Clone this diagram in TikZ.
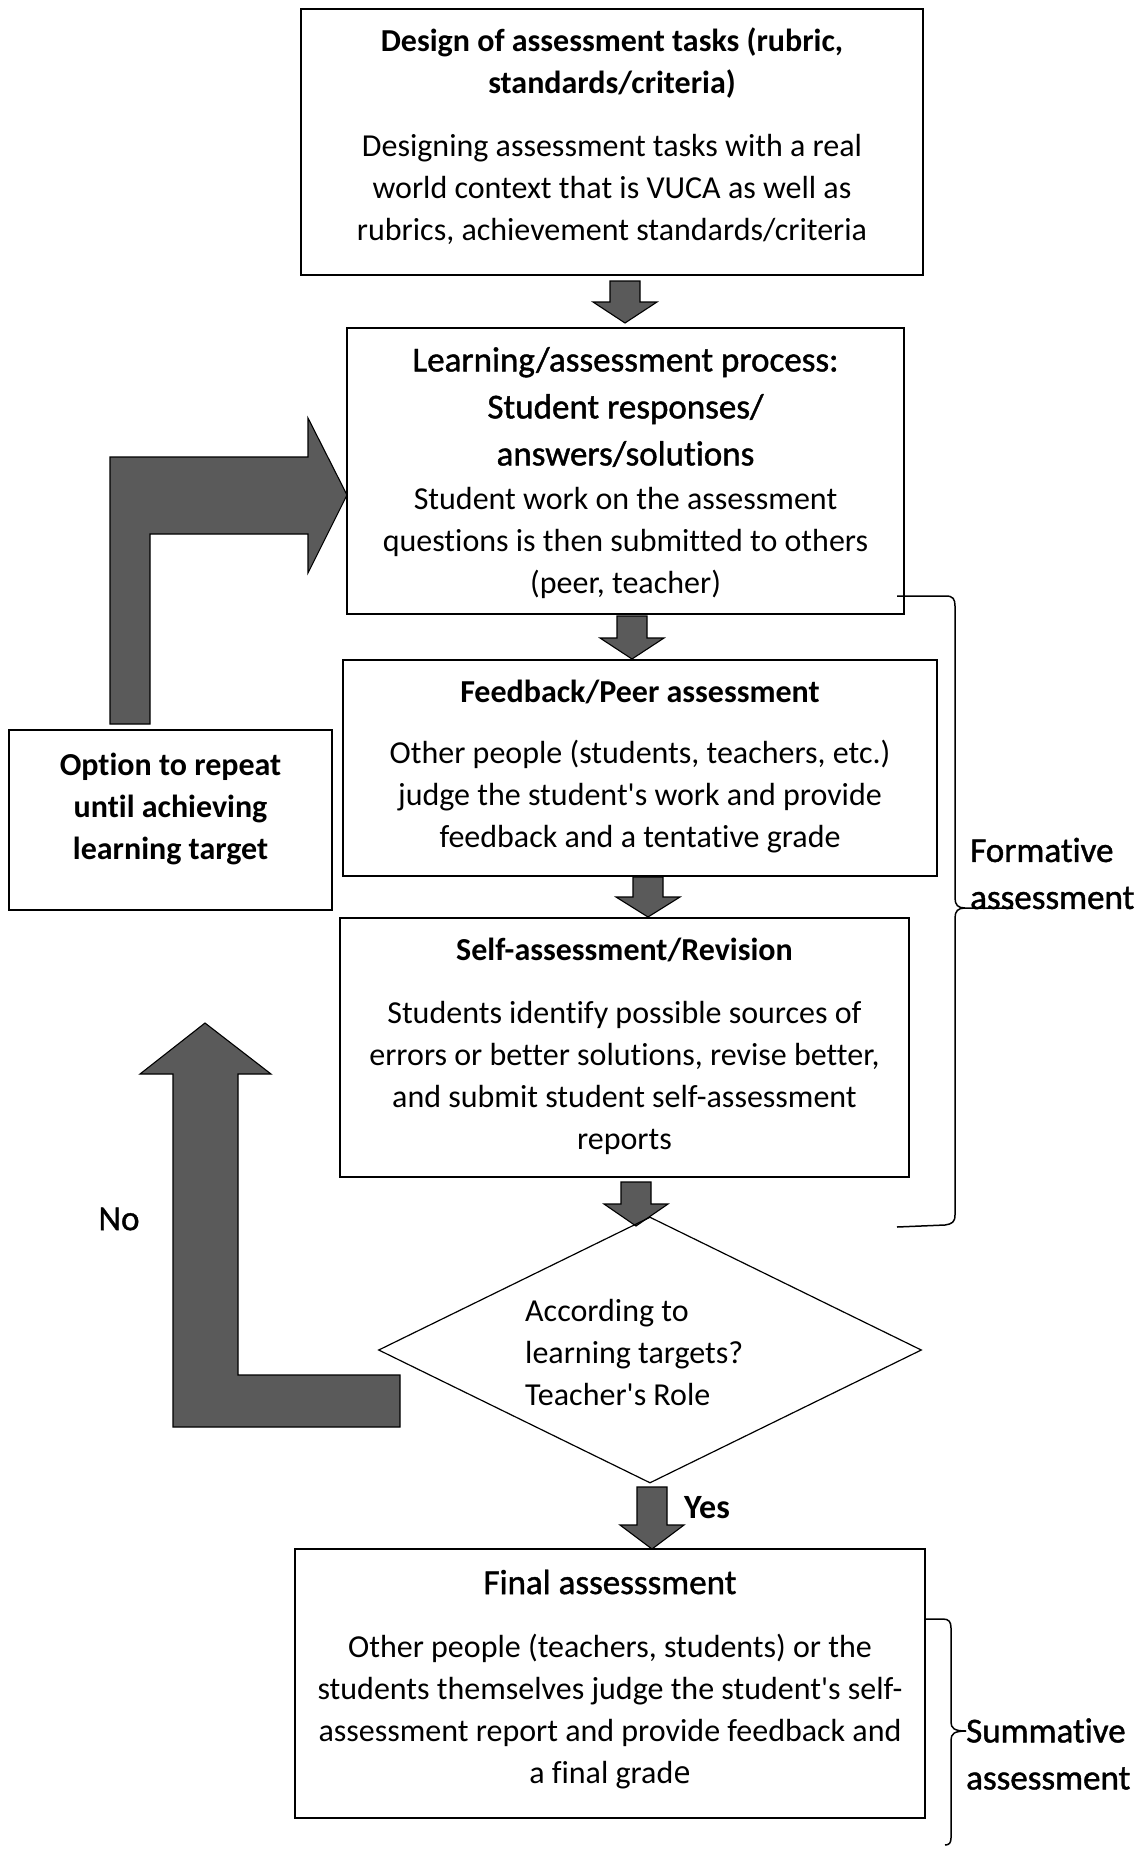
\documentclass[tikz,border=0pt]{standalone}
\usepackage{fontspec}
\setmainfont{Carlito}[Ligatures=CommonOff]
\newfontfamily\semifont{Carlito}[Ligatures=CommonOff,FakeBold=1.2]
\newfontfamily\altfont{Open Sans}
\usetikzlibrary{shapes.geometric}
\definecolor{arrowgray}{HTML}{5A5A5A}
\newcommand{\apos}{\XeTeXglyph\XeTeXcharglyph"0027\relax}
\newcommand{\blkdown}[4]{\draw[blockarrow] (#1-15,#2) -- (#1+15,#2) -- (#1+15,#3) -- (#1+32,#3) -- (#1,#4) -- (#1-32,#3) -- (#1-15,#3) -- cycle;}
\begin{document}
\begin{tikzpicture}[x=1pt,y=-1pt,
 frame/.style={draw=black, line width=1.6pt, inner sep=0pt},
 body/.style={inner sep=0pt, align=center, font=\fontsize{32}{42}\selectfont},
 btitle/.style={inner sep=0pt, align=center, font=\fontsize{32}{42}\selectfont\bfseries},
 ltitle/.style={inner sep=0pt, align=center, font=\semifont\fontsize{35}{47}\selectfont},
 blockarrow/.style={fill=arrowgray, draw=black, line width=1.1pt, line join=miter},
 bracel/.style={draw=black, line width=1.5pt}]
\useasboundingbox (0,0) rectangle (1139,1850);
\fill[white] (0,0) rectangle (1139,1850);

% block arrows
\blkdown{625}{281}{302}{323}
\blkdown{632}{616}{638}{659}
\blkdown{648}{877}{897}{917}
\blkdown{636}{1182}{1204}{1226}
\blkdown{652}{1487}{1525}{1549}
\draw[blockarrow] (110,724) -- (110,457) -- (308,457) -- (308,418) -- (347,495) -- (308,573) -- (308,534) -- (150,534) -- (150,724) -- cycle;
\draw[blockarrow] (205,1023) -- (271,1074) -- (238,1074) -- (238,1375) -- (400,1375) -- (400,1427) -- (173,1427) -- (173,1074) -- (140,1074) -- cycle;

% boxes
\node[frame, minimum width=622pt, minimum height=266pt] (b1) at (612,142) {};
\node[frame, minimum width=557pt, minimum height=286pt] (b2) at (625.5,471) {};
\node[frame, minimum width=594pt, minimum height=216pt] (b3) at (640,768) {};
\node[frame, minimum width=569pt, minimum height=259pt] (b4) at (624.5,1047.5) {};
\node[frame, minimum width=630pt, minimum height=269pt] (b5) at (610,1683.5) {};
\node[frame, minimum width=323pt, minimum height=180pt] (opt) at (170.5,820) {};
\node[draw=black, line width=1.2pt, diamond, minimum width=543pt, minimum height=266pt, inner sep=0pt] (dec) at (650,1350) {};

% texts
\node[btitle] (b1t) at (612,63) {Design of assessment tasks (rubric,\\standards/criteria)};
\node[body] (b1b) at (612,189.5) {Designing assessment tasks with a real\\world context that is VUCA as well as\\rubrics, achievement standards/criteria};
\node[ltitle] (b2t) at (625.5,407) {Learning/assessment process:\\Student responses/\\answers/solutions};
\node[body] (b2b) at (625.5,543) {Student work on the assessment\\questions is then submitted to others\\(peer, teacher)};
\node[btitle] (b3t) at (640,692) {Feedback/Peer assessment};
\node[body] (b3b) at (640,797) {Other people (students, teachers, etc.)\\judge the student\apos s work and provide\\feedback and a tentative grade};
\node[btitle] (b4t) at (624.5,950) {Self-assessment/Revision};
\node[body] (b4b) at (624.5,1078) {Students identify possible sources of\\errors or better solutions, revise better,\\and submit student self-assessment\\reports};
\node[btitle] (optt) at (170.5,809) {Option to repeat\\until achieving\\learning target};
\node[body, align=left, anchor=west] (dect) at (525,1352) {According to\\learning targets?\\Teacher\apos s Role};
\node[ltitle] (b5t) at (610,1582) {Final assesssment};
\node[body] (b5b) at (610,1712) {Other people (teachers, students) or the\\students themselves judge the student\apos s self-\\assessment report and provide feedback and\\a final grad{\altfont\fontsize{31}{42}\selectfont e}};
\node[ltitle] (no) at (119,1219) {No};
\node[btitle, font=\fontsize{34}{42}\selectfont\bfseries] (yes) at (707,1508) {Yes};
\node[ltitle, align=left, anchor=west] (form) at (970,873.5) {Formative\\assessment};
\node[ltitle, align=left, anchor=west] (summ) at (966,1754) {Summative\\assessment};

% braces
\draw[bracel] (897,596) -- (946,596) .. controls (953,596) and (955,599) .. (955,606) -- (955,898) .. controls (955,905) and (958,908) .. (965,908) -- (1013,908);
\draw[bracel] (965,908) .. controls (958,908) and (955,911) .. (955,918) -- (955,1215) .. controls (955,1222) and (952,1224) .. (945,1225) -- (897,1227);
\draw[bracel] (925,1619) -- (943,1619) .. controls (949,1619) and (951,1622) .. (951,1628) -- (951,1722) .. controls (951,1728) and (954,1731) .. (966,1731);
\draw[bracel] (966,1731) .. controls (954,1731) and (951,1734) .. (951,1740) -- (951,1838) .. controls (951,1843) and (949,1845) .. (945,1845);
\end{tikzpicture}
\end{document}
